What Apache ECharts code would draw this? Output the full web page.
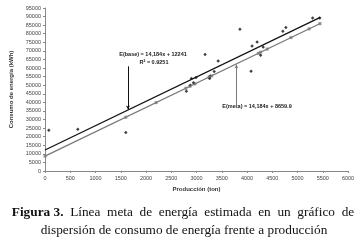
<!DOCTYPE html>
<html>
<head>
<meta charset="utf-8">
<script src="https://cdn.jsdelivr.net/npm/echarts@6/dist/echarts.min.js"></script>
<style>
  html, body { margin: 0; padding: 0; background: #fff; }
  #chart { width: 364px; height: 240px; }
</style>
</head>
<body>
<div id="chart"></div>
<script>
// puntos de consumo medidos (producción ton, energía kWh)
const basePoints = [
  [75, 23800], [650, 24300], [1600, 22500], [2800, 46500], [2880, 50000],
  [2900, 53900], [2940, 51400], [2990, 54500], [3170, 67900], [3260, 53900],
  [3270, 55200], [3350, 58000], [3430, 64100], [3860, 82600], [4080, 58200],
  [4100, 72900], [4200, 75200], [4270, 67500], [4320, 72300], [4710, 81400],
  [4770, 83700], [5300, 89100], [5440, 89100]
];
// puntos sobre la línea meta
const metaPoints = [
  [0, 8660], [1600, 31350], [2200, 39860], [2790, 48230], [2870, 49370],
  [2970, 50790], [3250, 54760], [3300, 55470], [4225, 68590], [4270, 69230],
  [4400, 71070], [4870, 77740], [5230, 82840], [5445, 85890]
];
// extremos de las rectas de tendencia
const baseLine = [[0, 12241], [5450, 89544]];
const metaLine = [[0, 8660], [5450, 85963]];

const baseLabel = 'E(base) = 14,184x + 12241';
const r2Label = 'R² = 0.9251';
const metaLabel = 'E(meta) = 14,184x + 8659.9';

const chart = echarts.init(document.getElementById('chart'));

const tinyFont = 'Liberation Sans';

const option = {
  animation: false,
  backgroundColor: '#fff',
  grid: { left: 45, top: 8, width: 303, height: 163 },
  xAxis: {
    type: 'value',
    min: 0, max: 6000, interval: 500,
    name: 'Producción (ton)',
    nameLocation: 'middle',
    nameGap: 14,
    nameTextStyle: { fontSize: 6, fontWeight: 'bold', color: '#333', fontFamily: tinyFont },
    axisLine: { lineStyle: { color: '#888', width: 1 } },
    axisTick: { show: true, length: 2, lineStyle: { color: '#888' } },
    axisLabel: { fontSize: 5.5, color: '#444', margin: 4, fontFamily: tinyFont, formatter: (v) => String(v) },
    splitLine: { show: false }
  },
  yAxis: {
    type: 'value',
    min: 0, max: 95000, interval: 5000,
    name: 'Consumo de energía (kWh)',
    nameLocation: 'middle',
    nameGap: 26,
    nameTextStyle: { fontSize: 6, fontWeight: 'bold', color: '#333', fontFamily: tinyFont },
    axisLine: { show: true, lineStyle: { color: '#888', width: 1 } },
    axisTick: { show: true, length: 2, lineStyle: { color: '#888' } },
    axisLabel: { fontSize: 5.5, color: '#444', margin: 4, fontFamily: tinyFont, formatter: (v) => String(v) },
    splitLine: { show: false }
  },
  series: [
    {
      type: 'line',
      data: baseLine,
      symbol: 'none',
      lineStyle: { color: '#111', width: 1.3 },
      markLine: {
        silent: true,
        symbol: ['none', 'arrow'],
        symbolSize: [3, 4],
        label: { show: false },
        lineStyle: { color: '#111', width: 1, type: 'solid' },
        data: [[{ coord: [1643, 61000] }, { coord: [1643, 35800] }]]
      }
    },
    {
      type: 'line',
      data: metaLine,
      symbol: 'none',
      lineStyle: { color: '#7a7a7a', width: 1.3 },
      markLine: {
        silent: true,
        symbol: ['none', 'arrow'],
        symbolSize: [3, 4],
        label: { show: false },
        lineStyle: { color: '#7a7a7a', width: 1, type: 'solid' },
        data: [[{ coord: [3790, 37500] }, { coord: [3790, 62000] }]]
      }
    },
    {
      type: 'scatter',
      data: metaPoints,
      symbol: 'rect',
      symbolSize: 3,
      itemStyle: { color: '#7a7a7a' }
    },
    {
      type: 'scatter',
      data: basePoints,
      symbol: 'diamond',
      symbolSize: 3.5,
      itemStyle: { color: '#111' }
    }
  ],
  graphic: [
    {
      type: 'text', silent: true,
      style: { text: baseLabel, x: 153, y: 54, align: 'center', verticalAlign: 'middle',
        font: 'bold 5.5px "Liberation Sans"', fill: '#222' }
    },
    {
      type: 'text', silent: true,
      style: { text: r2Label, x: 154, y: 62, align: 'center', verticalAlign: 'middle',
        font: 'bold 5.5px "Liberation Sans"', fill: '#222' }
    },
    {
      type: 'text', silent: true,
      style: { text: metaLabel, x: 257, y: 106, align: 'center', verticalAlign: 'middle',
        font: 'bold 5.5px "Liberation Sans"', fill: '#222' }
    },
    {
      // primera línea justificada: espacios dobles entre palabras
      type: 'text', silent: true,
      style: {
        text: '{b|Figura 3.}  Línea  meta  de  energía  estimada  en  un  gráfico  de',
        x: 183, y: 213, align: 'center', verticalAlign: 'middle',
        font: '13.3px "Liberation Serif"', fill: '#111',
        rich: { b: { fontWeight: 'bold', fontSize: 13.3, fontFamily: 'Liberation Serif', fill: '#111' } }
      }
    },
    {
      type: 'text', silent: true,
      style: {
        text: 'dispersión de consumo de energía frente a producción',
        x: 184, y: 231, align: 'center', verticalAlign: 'middle',
        font: '13.3px "Liberation Serif"', fill: '#111'
      }
    }
  ]
};

chart.setOption(option);
</script>
</body>
</html>
